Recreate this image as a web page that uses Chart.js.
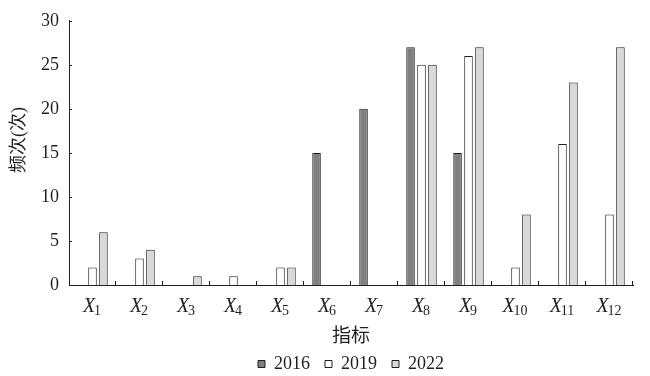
<!DOCTYPE html>
<html>
<head>
<meta charset="utf-8">
<script src="https://cdn.jsdelivr.net/npm/chart.js@4.4.0/dist/chart.umd.min.js"></script>
<style>
html, body { margin: 0; padding: 0; background: #fff; }
</style>
</head>
<body>
<canvas id="myChart" width="650" height="376"></canvas>
<script>
var categories = ['X1', 'X2', 'X3', 'X4', 'X5', 'X6', 'X7', 'X8', 'X9', 'X10', 'X11', 'X12'];
var years = ['2016', '2019', '2022'];
var data2016 = [0, 0, 0, 0, 0, 15, 20, 27, 15, 0, 0, 0];
var data2019 = [2, 3, 0, 1, 2, 0, 0, 25, 26, 2, 16, 8];
var data2022 = [6, 4, 1, 0, 2, 0, 0, 25, 27, 8, 23, 27];
var yTicks = [0, 5, 10, 15, 20, 25, 30];
var yTitle = '频次(次)';

var SERIF = "'Liberation Serif', 'Noto Sans CJK SC', serif";
var INK = '#231f20';

// short inward ticks, subscripted category labels, legend centred on the plot
var axisDeco = {
	id: 'axisDeco',
	afterLayout: function(chart) {
		var lg = chart.legend;
		var ca = chart.chartArea;
		var dx = (ca.left + ca.right) / 2 - (lg.left + lg.right) / 2;
		lg.left += dx;
		lg.right += dx;
		lg.top += 7;
		lg.bottom += 7;
	},
	afterDraw: function(chart) {
		var ctx = chart.ctx;
		var x = chart.scales.x;
		var y = chart.scales.y;
		var ca = chart.chartArea;
		ctx.save();
		ctx.strokeStyle = INK;
		ctx.lineWidth = 1;
		ctx.beginPath();
		yTicks.forEach(function(v) {
			var py = Math.round(y.getPixelForValue(v)) + 0.5;
			ctx.moveTo(ca.left, py);
			ctx.lineTo(ca.left + 3, py);
		});
		var w = (ca.right - ca.left) / categories.length;
		for (var i = 1; i <= categories.length; i++) {
			var px = Math.round(ca.left + i * w) - 0.5;
			ctx.moveTo(px, ca.bottom);
			ctx.lineTo(px, ca.bottom - 4);
		}
		ctx.stroke();

		ctx.fillStyle = INK;
		ctx.textBaseline = 'alphabetic';
		categories.forEach(function(label, i) {
			var main = label.charAt(0);
			var sub = label.slice(1);
			var cx = x.getPixelForValue(i);
			ctx.font = 'italic 20px ' + SERIF;
			var w1 = ctx.measureText(main).width;
			ctx.font = '14px ' + SERIF;
			var w2 = ctx.measureText(sub).width;
			var left = cx - (w1 + w2) / 2;
			ctx.font = 'italic 20px ' + SERIF;
			ctx.fillText(main, left, ca.bottom + 27);
			ctx.font = '14px ' + SERIF;
			ctx.fillText(sub, left + w1 - 1, ca.bottom + 30);
		});

		// y axis title, sits a little above the plot middle as in the source
		ctx.translate(19, 140);
		ctx.rotate(-Math.PI / 2);
		ctx.textAlign = 'center';
		ctx.textBaseline = 'middle';
		ctx.font = '18px ' + SERIF;
		ctx.fillText(yTitle, 0, 0);
		ctx.restore();
	}
};

function makeSet(label, values, color) {
	return {
		label: label,
		data: values,
		backgroundColor: color,
		borderColor: INK,
		borderWidth: 1,
		categoryPercentage: 0.7,
		barPercentage: 0.78
	};
}

var ctx = document.getElementById('myChart');
var myChart = new Chart(ctx, {
	type: 'bar',
	data: {
		labels: categories,
		datasets: [
			makeSet(years[0], data2016, '#7f7f7f'),
			makeSet(years[1], data2019, '#ffffff'),
			makeSet(years[2], data2022, '#d9d9d9')
		]
	},
	options: {
		responsive: false,
		animation: false,
		layout: {
			padding: { left: 0, right: 17, top: 17, bottom: 0 }
		},
		plugins: {
			legend: {
				position: 'bottom',
				labels: {
					boxWidth: 7,
					boxHeight: 7,
					padding: 15,
					color: INK,
					font: { family: SERIF, size: 18 }
				}
			},
			tooltip: { enabled: false }
		},
		scales: {
			x: {
				grid: { display: false, drawTicks: false },
				border: { display: true, color: INK, width: 1 },
				ticks: { display: false },
				title: {
					display: true,
					text: '指标',
					color: INK,
					font: { family: SERIF, size: 19 },
					padding: { top: 0, bottom: -15 }
				},
				afterFit: function(scale) {
					scale.height = 48;
				}
			},
			y: {
				min: 0,
				max: 30,
				grid: { display: false, drawTicks: false },
				border: { display: true, color: INK, width: 1 },
				ticks: {
					stepSize: 5,
					padding: 10,
					color: INK,
					font: { family: SERIF, size: 18 }
				},
				afterFit: function(scale) {
					scale.width = 69;
				}
			}
		}
	},
	plugins: [axisDeco]
});
</script>
</body>
</html>
